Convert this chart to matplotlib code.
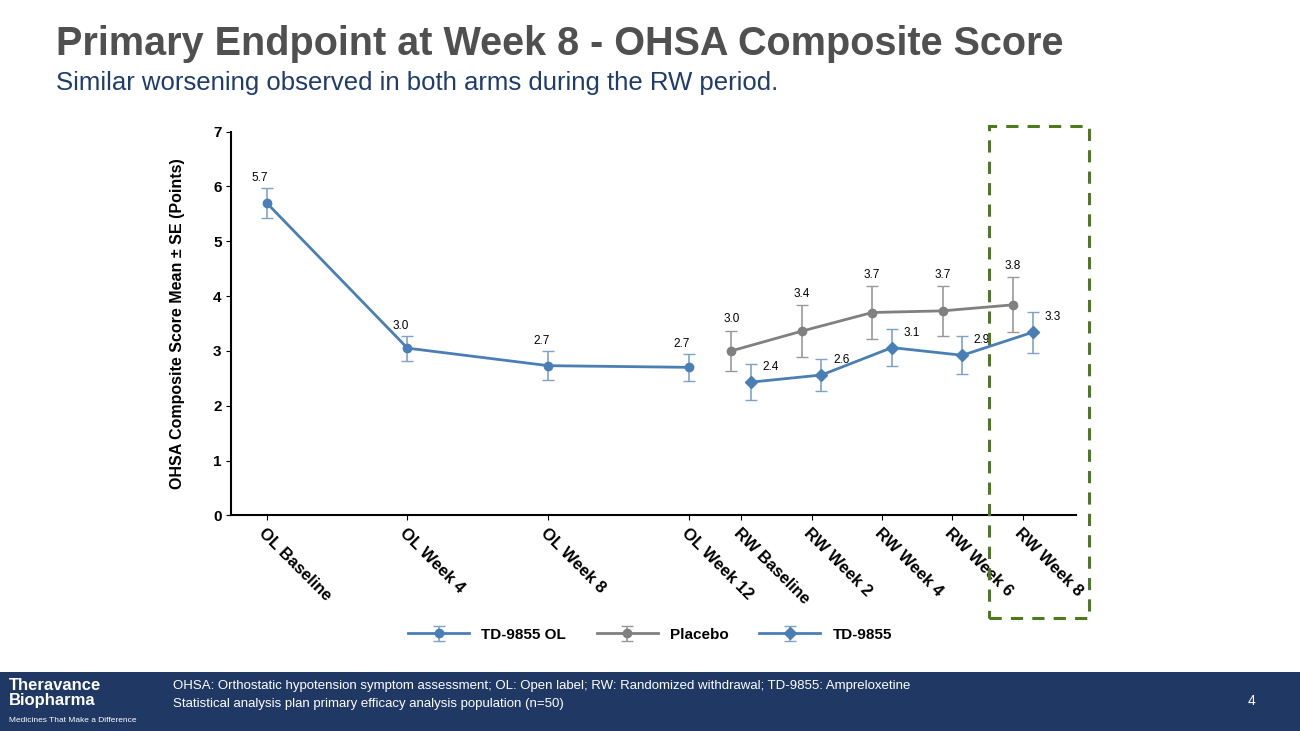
import matplotlib.pyplot as plt
from matplotlib.patches import Rectangle

plt.rcParams['font.family'] = ['Liberation Sans', 'DejaVu Sans']

ol_labels = ["OL Baseline", "OL Week 4", "OL Week 8", "OL Week 12"]
rw_labels = ["RW Baseline", "RW Week 2", "RW Week 4", "RW Week 6", "RW Week 8"]
ol_x = [0, 2, 4, 6]
rw_x = [6.74, 7.74, 8.74, 9.74, 10.74]

td_ol = [5.7, 3.05, 2.73, 2.7]
td_ol_se = [0.28, 0.23, 0.27, 0.25]
td_ol_lbl = ["5.7", "3.0", "2.7", "2.7"]
placebo = [3.0, 3.36, 3.7, 3.73, 3.84]
placebo_se = [0.37, 0.47, 0.48, 0.45, 0.5]
placebo_lbl = ["3.0", "3.4", "3.7", "3.7", "3.8"]
td = [2.43, 2.56, 3.06, 2.92, 3.34]
td_se = [0.33, 0.3, 0.34, 0.35, 0.37]
td_lbl = ["2.4", "2.6", "3.1", "2.9", "3.3"]

blue = "#4a7fb5"
grey = "#808080"

fig = plt.figure(figsize=(13, 7.31), dpi=100)
fig.text(0.043, 0.925, "Primary Endpoint at Week 8 - OHSA Composite Score", fontsize=28.5,
         fontweight="bold", color="#505050")
fig.text(0.043, 0.877, "Similar worsening observed in both arms during the RW period.", fontsize=18.5,
         color="#1f3c6e")

ax = fig.add_axes([0.178, 0.295, 0.65, 0.525])
off = 0.14
px = [x - off for x in rw_x]
tx = [x + off for x in rw_x]
ax.errorbar(ol_x, td_ol, yerr=td_ol_se, color=blue, ecolor="#7fa3c8", marker="o", ms=6,
            lw=2, elinewidth=1.2, capsize=4, label="TD-9855 OL")
ax.errorbar(px, placebo, yerr=placebo_se, color=grey, ecolor="#999999", marker="o", ms=6,
            lw=2, elinewidth=1.2, capsize=4, label="Placebo")
ax.errorbar(tx, td, yerr=td_se, color=blue, ecolor="#7fa3c8", marker="D", ms=6,
            lw=2, elinewidth=1.2, capsize=4, label="TD-9855")
for x, y, s, l in zip(ol_x, td_ol, td_ol_se, td_ol_lbl):
    ax.text(x - 0.1, y + s + 0.12, l, fontsize=8.5, ha="center")
for x, y, s, l in zip(px, placebo, placebo_se, placebo_lbl):
    ax.text(x, y + s + 0.15, l, fontsize=8.5, ha="center")
for x, y, l in zip(tx, td, td_lbl):
    ax.text(x + 0.28, y + 0.22, l, fontsize=8.5, ha="center")

ax.set_xlim(-0.5, 11.5)
ax.set_ylim(0, 7)
ax.set_xticks(ol_x + rw_x)
ax.set_xticklabels(ol_labels + rw_labels, rotation=-45, ha="left", rotation_mode="anchor",
                   fontsize=12, fontweight="bold")
ax.set_yticks(range(8))
ax.tick_params(axis="y", labelsize=11)
for t in ax.get_yticklabels():
    t.set_fontweight("bold")
ax.set_ylabel("OHSA Composite Score Mean ± SE (Points)", fontsize=11.5, fontweight="bold",
              labelpad=20)
ax.spines["top"].set_visible(False)
ax.spines["right"].set_visible(False)
ax.spines["left"].set_linewidth(1.5)
ax.spines["bottom"].set_linewidth(1.5)

leg = fig.legend(loc="center", bbox_to_anchor=(0.5, 0.132), ncol=3, frameon=False,
                 prop={"weight": "bold", "size": 11}, handlelength=4)

fig.add_artist(Rectangle((0.761, 0.155), 0.077, 0.672, transform=fig.transFigure, fill=False,
                         ec="#4e7a1e", lw=2.2, ls=(0, (4, 3))))

fig.add_artist(Rectangle((0, 0), 1, 0.081, transform=fig.transFigure, fc="#1f3864", ec="none"))
fig.text(0.007, 0.052, "Theravance\nBiopharma", color="white", fontsize=12, fontweight="bold",
         va="center", linespacing=1.0)
fig.text(0.007, 0.012, "Medicines That Make a Difference", color="white", fontsize=6)
fig.text(0.133, 0.058, "OHSA: Orthostatic hypotension symptom assessment; OL: Open label; RW: Randomized withdrawal; TD-9855: Ampreloxetine",
         color="white", fontsize=9.5)
fig.text(0.133, 0.033, "Statistical analysis plan primary efficacy analysis population (n=50)",
         color="white", fontsize=9.5)
fig.text(0.96, 0.035, "4", color="white", fontsize=10)

fig.savefig("out.png")
